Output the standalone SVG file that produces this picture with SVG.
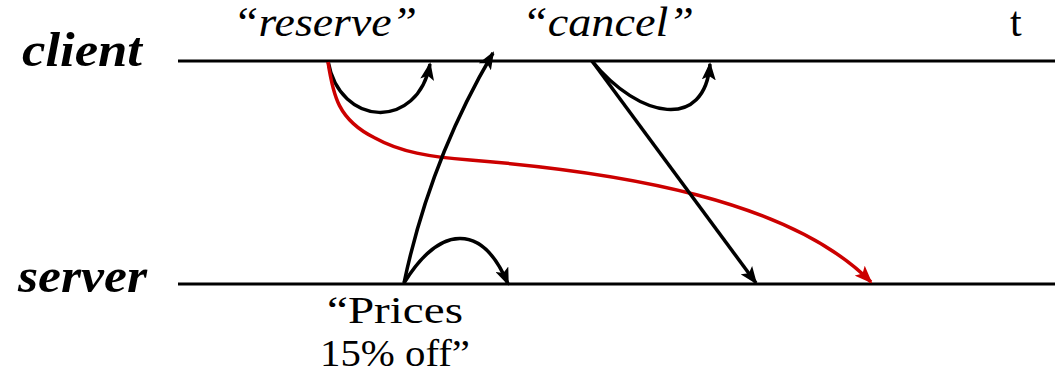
<svg xmlns="http://www.w3.org/2000/svg" width="1055" height="375" viewBox="0 0 1055 375">
<style>
text{font-family:'Liberation Serif','Times New Roman',serif;fill:#000}
.lbl{font-weight:bold;font-style:italic;font-size:48px}
.msg{font-style:italic;font-size:42px}
.txt{font-size:42px}
.pr{font-size:38px}
.ln{stroke:#000;stroke-width:3;fill:none}
.bk{stroke:#000;stroke-width:3.5;fill:none;marker-end:url(#ab)}
.rd{stroke:#cc0000;stroke-width:3.5;fill:none;marker-end:url(#ar)}
</style>
<defs>
<marker id="ab" markerWidth="18" markerHeight="14" refX="16" refY="7" orient="auto" markerUnits="userSpaceOnUse"><path d="M0,0 L18,7 L0,14 L4,7 Z" fill="#000"/></marker>
<marker id="ar" markerWidth="18" markerHeight="14" refX="16" refY="7" orient="auto" markerUnits="userSpaceOnUse"><path d="M0,0 L18,7 L0,14 L4,7 Z" fill="#cc0000"/></marker>
</defs>
<rect width="1055" height="375" fill="#fff"/>
<g id="client"><text class="lbl" x="22" y="66" textLength="120" lengthAdjust="spacingAndGlyphs">client</text><line class="ln" x1="178" y1="61" x2="1055" y2="61"/></g>
<g id="server"><text class="lbl" x="18" y="292" textLength="129" lengthAdjust="spacingAndGlyphs">server</text><line class="ln" x1="178" y1="284" x2="1055" y2="284"/></g>
<g id="reserve"><text class="msg" x="233" y="36" textLength="184" lengthAdjust="spacingAndGlyphs">“reserve”</text></g>
<g id="cancel"><text class="msg" x="522" y="36" textLength="172" lengthAdjust="spacingAndGlyphs">“cancel”</text></g>
<g id="t"><text class="txt" x="1010" y="36">t</text></g>
<g id="prices"><text class="txt pr" x="327" y="323" textLength="136" lengthAdjust="spacingAndGlyphs">“Prices</text><text class="txt pr" x="320" y="366" textLength="150" lengthAdjust="spacingAndGlyphs">15% off”</text></g>
<g id="connectors">
<path class="bk" d="M328,61 C340,128 418,130 430,64"/>
<path class="rd" d="M328,62 C333,95 338,120 375,138 C400,152 430,157 470,160 C620,172 790,200 871,282"/>
<path class="bk" d="M404,283 Q430,160 493,53"/>
<path class="bk" d="M404,283 C440,225 482,222 508,284"/>
<path class="bk" d="M592,61 L756,283"/>
<path class="bk" d="M592,61 C640,120 705,130 710,64"/>
</g>
</svg>
